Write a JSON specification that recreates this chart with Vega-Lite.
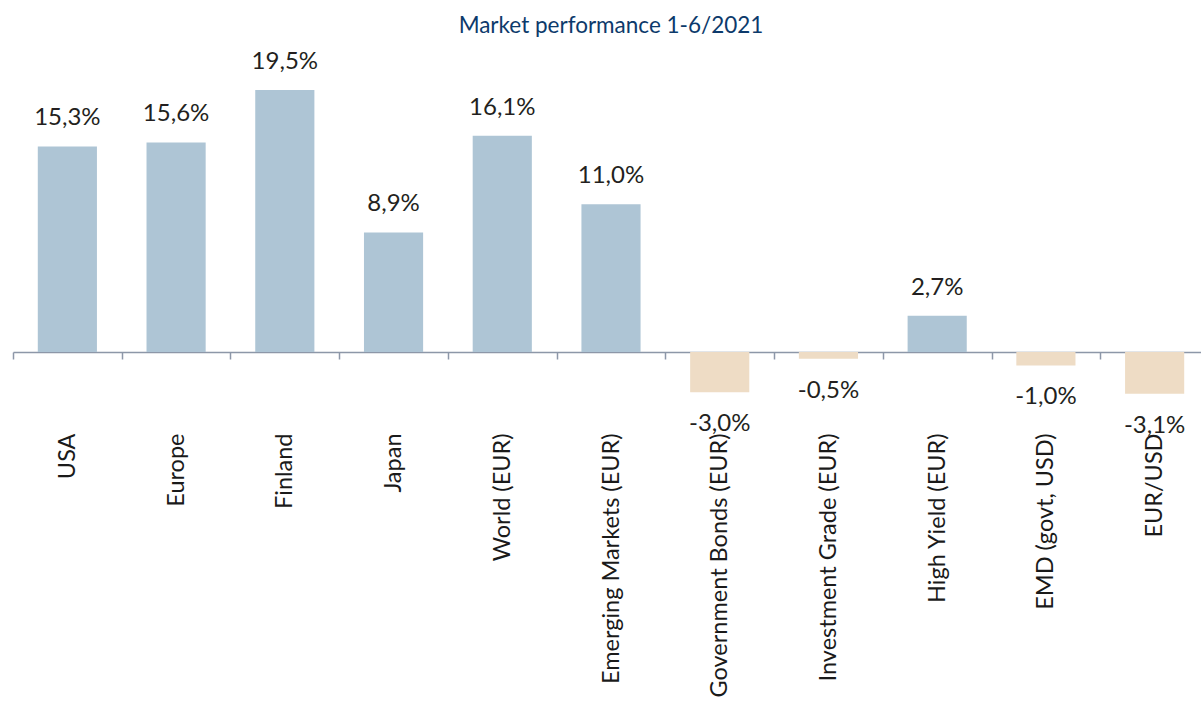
{
  "$schema": "https://vega.github.io/schema/vega-lite/v6.json",
  "autosize": {"type": "none"},
  "padding": {"left": 13, "top": 43, "right": 0, "bottom": 352},
  "width": 1196,
  "height": 309,
  "background": "white",
  "config": {
    "view": {"stroke": null},
    "locale": {"number": {"decimal": ",", "thousands": " ", "grouping": [3], "currency": ["", "€"], "minus": "-"}}
  },
  "title": {
    "text": "Market performance 1-6/2021",
    "font": "Lato",
    "fontSize": 22.5,
    "fontWeight": "normal",
    "color": "#0d3a6b",
    "anchor": "middle",
    "offset": 6
  },
  "data": {
    "values": [
      {"name": "USA", "value": 0.153},
      {"name": "Europe", "value": 0.156},
      {"name": "Finland", "value": 0.195},
      {"name": "Japan", "value": 0.089},
      {"name": "World (EUR)", "value": 0.161},
      {"name": "Emerging Markets (EUR)", "value": 0.110},
      {"name": "Government Bonds (EUR)", "value": -0.030},
      {"name": "Investment Grade (EUR)", "value": -0.005},
      {"name": "High Yield (EUR)", "value": 0.027},
      {"name": "EMD (govt, USD)", "value": -0.010},
      {"name": "EUR/USD", "value": -0.031}
    ]
  },
  "encoding": {
    "x": {
      "field": "name",
      "type": "nominal",
      "sort": null,
      "scale": {"paddingInner": 0, "paddingOuter": 0},
      "axis": {
        "title": null,
        "orient": "bottom",
        "labelAngle": -90,
        "labelFont": "Lato",
        "labelFontSize": 23.5,
        "labelColor": "#1a1a1a",
        "labelPadding": 74,
        "tickSize": 7,
        "tickBand": "extent",
        "tickColor": "#8d97a8",
        "tickWidth": 1.5,
        "domainColor": "#8d97a8",
        "domainWidth": 1.5,
        "labelLimit": 400
      }
    },
    "y": {
      "field": "value",
      "type": "quantitative",
      "scale": {"domain": [0, 0.23], "nice": false, "zero": false},
      "axis": null
    }
  },
  "layer": [
    {
      "mark": {"type": "bar", "clip": false, "width": {"band": 0.544}},
      "encoding": {
        "color": {"condition": {"test": "datum.value < 0", "value": "#eedcc5"}, "value": "#aec5d5"}
      }
    },
    {
      "transform": [{"filter": "datum.value >= 0"}],
      "mark": {"type": "text", "font": "Lato", "fontSize": 24, "color": "#231f20", "baseline": "alphabetic", "dy": -21},
      "encoding": {"text": {"field": "value", "type": "quantitative", "format": ".1%"}}
    },
    {
      "transform": [{"filter": "datum.value < 0"}],
      "mark": {"type": "text", "font": "Lato", "fontSize": 24, "color": "#231f20", "baseline": "alphabetic", "dy": 39},
      "encoding": {"text": {"field": "value", "type": "quantitative", "format": ".1%"}}
    }
  ]
}
